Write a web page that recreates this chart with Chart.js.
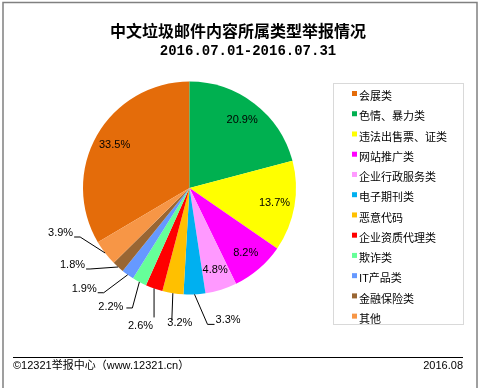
<!DOCTYPE html>
<html lang="zh">
<head>
    <meta charset="UTF-8">
    <title>中文垃圾邮件内容所属类型举报情况</title>
    <script src="https://cdn.jsdelivr.net/npm/chart.js"></script>
</head>
<style>
    body{
        margin: 0;
        background: #fff;
    }
    .box{
        position: relative;
        width: 482px;
        height: 388px;
    }
</style>
<body>
<div class="box">
    <canvas id="spamPie" width="482" height="388"></canvas>
</div>
<script>
    // categories in clockwise order, first one ends at 12 o'clock
    const categories = ['会展类', '色情、暴力类', '违法出售票、证类', '网站推广类', '企业行政服务类', '电子期刊类',
        '恶意代码', '企业资质代理类', '欺诈类', 'IT产品类', '金融保险类', '其他'];
    const shares = [33.5, 20.9, 13.7, 8.2, 4.8, 3.3, 3.2, 2.6, 2.2, 1.9, 1.8, 3.9];
    const colors = ['#E46C0A', '#00B050', '#FFFF00', '#FF00FF', '#FF99FF', '#00B0F0',
        '#FFC000', '#FF0000', '#66FF99', '#6699FF', '#996633', '#F79646'];

    const total = shares.reduce((a, b) => a + b, 0);

    // leader lines for the small slices: elbow offset from the rim, horizontal run, text offset
    const callouts = {
        5: {dx: 13, dy: 30, hx: 7, align: 'left', tx: 1, ty: -4},
        6: {dx: -1, dy: 27, hx: 0, align: 'center', tx: 8, ty: 3},
        7: {dx: 0, dy: 29, hx: 0, align: 'right', tx: -1, ty: 9},
        8: {dx: -7, dy: 26, hx: -6, align: 'right', tx: -3, ty: -1},
        9: {dx: -24, dy: 18, hx: -6, align: 'right', tx: -1, ty: -4},
        10: {dx: -28, dy: 2, hx: -4, align: 'right', tx: -1, ty: -4},
        11: {dx: -25, dy: -16, hx: -6, align: 'right', tx: -1, ty: -4}
    };

    const labelFont = '11px "Liberation Sans", Arial, sans-serif';

    const pieLabels = {
        id: 'pieLabels',
        afterDatasetsDraw(chart) {
            const ctx = chart.ctx;
            const meta = chart.getDatasetMeta(0);
            ctx.save();
            ctx.font = labelFont;
            ctx.fillStyle = '#000';
            ctx.strokeStyle = '#000';
            ctx.lineWidth = 1;
            ctx.textBaseline = 'middle';
            meta.data.forEach((arc, i) => {
                const p = arc.getProps(['x', 'y', 'startAngle', 'endAngle', 'outerRadius'], true);
                const mid = (p.startAngle + p.endAngle) / 2;
                const txt = shares[i].toFixed(1) + '%';
                const c = callouts[i];
                if (!c) {
                    const r = p.outerRadius * 0.81;
                    ctx.textAlign = 'center';
                    ctx.fillText(txt, p.x + Math.cos(mid) * r, p.y + Math.sin(mid) * r);
                    return;
                }
                const ex = p.x + Math.cos(mid) * p.outerRadius;
                const ey = p.y + Math.sin(mid) * p.outerRadius;
                const bx = ex + c.dx, by = ey + c.dy;
                const endX = bx + c.hx;
                ctx.beginPath();
                ctx.moveTo(ex, ey);
                ctx.lineTo(bx, by);
                ctx.lineTo(endX, by);
                ctx.stroke();
                ctx.textAlign = c.align;
                ctx.fillText(txt, endX + c.tx, by + c.ty);
            });
            ctx.restore();
        }
    };

    const decor = {
        id: 'decor',
        afterDraw(chart) {
            const ctx = chart.ctx;
            ctx.save();
            // outer frame
            ctx.strokeStyle = '#808080';
            ctx.lineWidth = 1.5;
            ctx.strokeRect(3, 2.5, 474, 390);

            // titles
            ctx.fillStyle = '#000';
            ctx.textAlign = 'center';
            ctx.textBaseline = 'middle';
            ctx.font = 'bold 16px "Noto Sans CJK SC", sans-serif';
            ctx.fillText('中文垃圾邮件内容所属类型举报情况', 238, 31);
            ctx.font = 'bold 14px "Liberation Mono", monospace';
            ctx.fillText('2016.07.01-2016.07.31', 248, 51);

            // legend
            ctx.strokeStyle = '#d9d9d9';
            ctx.lineWidth = 1;
            ctx.strokeRect(333.5, 83.5, 130, 241);
            ctx.font = '11px "Noto Sans CJK SC", sans-serif';
            ctx.textAlign = 'left';
            const ds = chart.data.datasets[0];
            chart.data.labels.forEach((lab, i) => {
                const y = 96 + i * 20.24;
                ctx.fillStyle = ds.backgroundColor[i];
                ctx.fillRect(352, y - 5, 5, 5);
                ctx.fillStyle = '#000';
                ctx.fillText(lab, 359, y);
            });

            // footer
            ctx.strokeStyle = '#000';
            ctx.lineWidth = 1;
            ctx.beginPath();
            ctx.moveTo(13, 357.5);
            ctx.lineTo(463, 357.5);
            ctx.stroke();
            ctx.font = '11px "Liberation Sans", "Noto Sans CJK SC", sans-serif';
            ctx.fillText('©12321举报中心（www.12321.cn）', 13, 366);
            ctx.textAlign = 'right';
            ctx.fillText('2016.08', 463, 366);
            ctx.restore();
        }
    };

    new Chart(document.getElementById('spamPie'), {
        type: 'pie',
        data: {
            labels: categories,
            datasets: [{
                data: shares,
                backgroundColor: colors,
                borderWidth: 0
            }]
        },
        options: {
            responsive: false,
            animation: false,
            rotation: -shares[0] / total * 360,
            layout: {
                padding: {left: 83, right: 186, top: 81, bottom: 93}
            },
            plugins: {
                legend: {display: false},
                title: {display: false},
                tooltip: {enabled: false}
            }
        },
        plugins: [pieLabels, decor]
    });
</script>
</body>
</html>
